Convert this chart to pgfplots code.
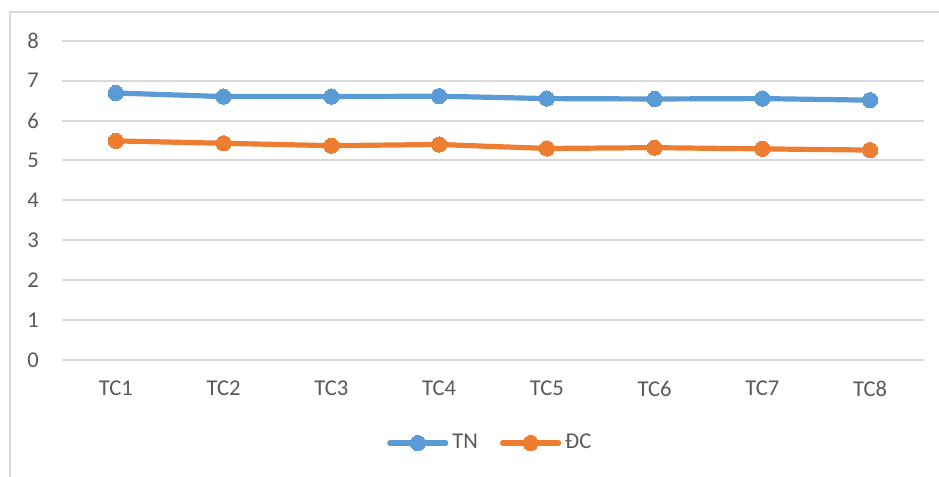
\documentclass[border=0pt]{standalone}
\usepackage{fontspec}
\setmainfont{Carlito}
\usepackage{pgfplots}
\pgfplotsset{compat=1.18}
\definecolor{tnblue}{HTML}{5B9BD5}
\definecolor{dcorange}{HTML}{ED7D31}
\definecolor{gridgray}{HTML}{D9D9D9}
\definecolor{labelgray}{HTML}{595959}
\begin{document}
\begin{tikzpicture}
\useasboundingbox (0,0) rectangle (469.5pt,238.5pt);
% chart area frame (left and top edges)
\draw[gridgray, line width=0.8pt] (5pt,-2pt) -- (5pt,232.5pt) -- (472pt,232.5pt);
\begin{axis}[
  at={(31pt,58.5pt)}, anchor=south west,
  scale only axis, width=431pt, height=159.65pt,
  xmin=0.5, xmax=8.5, ymin=0, ymax=8,
  xtick={1,...,8},
  xticklabels={TC1,TC2,TC3,TC4,TC5,TC6,TC7,TC8},
  ytick={0,...,8},
  ymajorgrids,
  major grid style={gridgray, line width=1pt},
  axis line style={draw=none},
  major tick length=0pt,
  tick label style={font=\fontsize{11.3}{13}\selectfont, text=labelgray},
  /pgf/number format/assume math mode=true,
  xticklabel style={yshift=-7pt},
  yticklabel style={xshift=-8pt},
  clip=false,
  legend style={at={(0.498,-0.26)}, anchor=center, draw=none, fill=none,
    font=\fontsize{11.3}{13}\selectfont, text=labelgray,
    /tikz/every odd column/.append style={column sep=0pt},
    /tikz/every even column/.append style={column sep=9pt}},
  legend columns=2,
  legend cell align=left,
  legend image code/.code={\draw[mark repeat=2,mark phase=2,#1] plot coordinates {(0pt,0pt) (14pt,0pt) (28pt,0pt)};},
]
\addplot[tnblue, line width=2.6pt, line join=round, line cap=round, mark=*, mark size=3.8pt, mark options={solid, fill=tnblue, draw=tnblue, line width=0pt}]
  coordinates {(1,6.69) (2,6.60) (3,6.60) (4,6.61) (5,6.55) (6,6.54) (7,6.55) (8,6.51)};
\addlegendentry{TN}
\addplot[dcorange, line width=2.6pt, line join=round, line cap=round, mark=*, mark size=3.8pt, mark options={solid, fill=dcorange, draw=dcorange, line width=0pt}]
  coordinates {(1,5.49) (2,5.43) (3,5.37) (4,5.40) (5,5.30) (6,5.32) (7,5.29) (8,5.26)};
\addlegendentry{ĐC}
\end{axis}
\end{tikzpicture}
\end{document}
